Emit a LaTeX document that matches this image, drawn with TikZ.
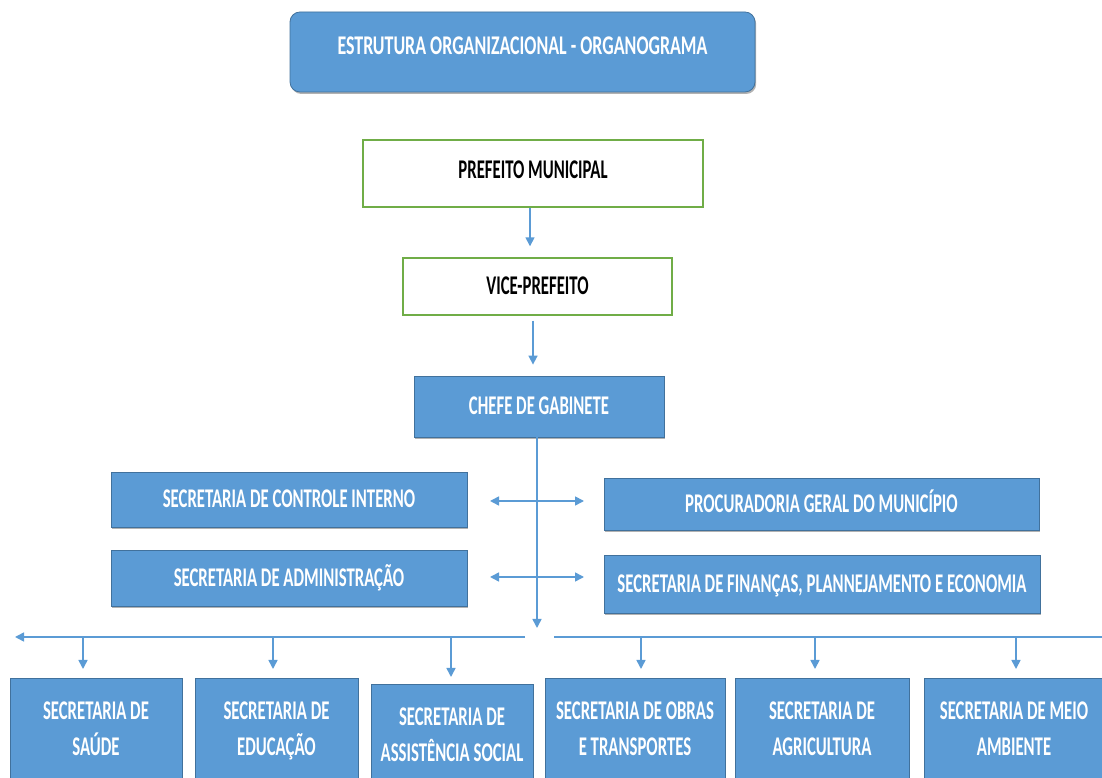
\documentclass[tikz,border=0pt]{standalone}
\usepackage{fontspec}
\setmainfont{Carlito}[FakeStretch=0.62]
\usetikzlibrary{arrows.meta,shadows,calc}
\definecolor{obl}{HTML}{5B9BD5}
\definecolor{obd}{HTML}{41719C}
\definecolor{ogr}{HTML}{70AD47}
\begin{document}
\begin{tikzpicture}[x=1pt,y=1pt,
  txt/.style={font=\fontsize{27}{36}\selectfont\bfseries},
  bluebox/.style={draw=obd, line width=0.8pt, fill=obl, inner sep=0pt,
    text=white, txt, text height=17pt, text depth=0pt,
    drop shadow={shadow xshift=1.2pt, shadow yshift=-2pt, opacity=0.3, fill=black}},
  greenbox/.style={draw=ogr, line width=1.4pt, fill=white, inner sep=0pt,
    text=black, txt, text height=17pt, text depth=0pt},
  btext/.style={txt, text=white, align=center, inner sep=0pt, anchor=north},
  arr/.style={draw=obl, line width=1.6pt, -{Triangle[length=9pt,width=9pt]}},
  darr/.style={draw=obl, line width=1.6pt, {Triangle[length=9pt,width=9pt]}-{Triangle[length=9pt,width=9pt]}},
  ln/.style={draw=obl, line width=1.6pt}
]
\useasboundingbox (0,0) rectangle (1102,778);
\clip (0,0) rectangle (1102,778);

% title
\node[bluebox, rounded corners=10pt, minimum width=465pt, minimum height=80pt,
  text height=17pt, text depth=11pt] (title) at (522.5,726)
  {\scalebox{1.07}[1]{ESTRUTURA ORGANIZACIONAL - ORGANOGRAMA}};

% hierarchy
\node[greenbox, minimum width=340pt, minimum height=67pt, text depth=6pt] (prefeito) at (533,604.5) {PREFEITO MUNICIPAL};
\node[greenbox, minimum width=269pt, minimum height=57pt] (vice) at (537.5,491.5) {VICE-PREFEITO};
\node[bluebox, minimum width=250pt, minimum height=61pt] (chefe) at (539,371.5) {CHEFE DE GABINETE};

% side boxes
\node[bluebox, minimum width=356pt, minimum height=55pt] (controle) at (289,278.5) {SECRETARIA DE CONTROLE INTERNO};
\node[bluebox, minimum width=356pt, minimum height=56pt] (admin) at (289,200) {SECRETARIA DE ADMINISTRAÇÃO};
\node[bluebox, minimum width=435pt, minimum height=52pt] (procur) at (821.5,274) {PROCURADORIA GERAL DO MUNICÍPIO};
\node[bluebox, minimum width=436pt, minimum height=58pt] (financ) at (822,194) {SECRETARIA DE FINANÇAS, PLANNEJAMENTO E ECONOMIA};

% bottom boxes
\node[bluebox, anchor=north, minimum width=172pt, minimum height=125pt] (b1) at (96,100) {};
\node[bluebox, anchor=north, minimum width=163pt, minimum height=125pt] (b2) at (276.5,100) {};
\node[bluebox, anchor=north, minimum width=162pt, minimum height=120pt] (b3) at (452,94) {};
\node[bluebox, anchor=north, minimum width=180pt, minimum height=125pt] (b4) at (635,100) {};
\node[bluebox, anchor=north, minimum width=174pt, minimum height=125pt] (b5) at (822,100) {};
\node[bluebox, anchor=north, minimum width=180pt, minimum height=125pt] (b6) at (1014,100) {};

\node[btext] (t1) at ([yshift=-23.5pt]b1.north) {SECRETARIA DE\\SAÚDE};
\node[btext] (t2) at ([yshift=-23.5pt]b2.north) {SECRETARIA DE\\EDUCAÇÃO};
\node[btext] (t3) at ([yshift=-24pt]b3.north) {SECRETARIA DE\\ASSISTÊNCIA SOCIAL};
\node[btext] (t4) at ([yshift=-23.5pt]b4.north) {SECRETARIA DE OBRAS\\E TRANSPORTES};
\node[btext] (t5) at ([yshift=-23.5pt]b5.north) {SECRETARIA DE\\AGRICULTURA};
\node[btext] (t6) at ([yshift=-23.5pt]b6.north) {SECRETARIA DE MEIO\\AMBIENTE};

% connectors
\draw[arr] ([xshift=-3pt]prefeito.south) -- ([xshift=-7.5pt,yshift=11pt]vice.north);
\draw[arr] ([xshift=-4.5pt,yshift=-5pt]vice.south) -- ([xshift=-6pt,yshift=11pt]chefe.north);

\coordinate (hub) at (537,150);
\coordinate (bl) at (525,141);
\coordinate (ble) at (15,141);
\coordinate (br) at (554,141);
\coordinate (bre) at (1110,141);
\draw[arr] ([xshift=-2pt]chefe.south) -- (hub);
\draw[arr] (bl) -- (ble);
\draw[ln] (br) -- (bre);

\coordinate (d1l) at (490,277);
\coordinate (d1r) at (584,277);
\coordinate (d2l) at (490,201);
\coordinate (d2r) at (584,201);
\draw[darr] (d1l) -- (d1r);
\draw[darr] (d2l) -- (d2r);

\draw[arr] ($(b1.north)+(-13,41)$) -- ($(b1.north)+(-13,9)$);
\draw[arr] ($(b2.north)+(-3.5,41)$) -- ($(b2.north)+(-3.5,9)$);
\draw[arr] ($(b3.north)+(-1,47)$) -- ($(b3.north)+(-1,7)$);
\draw[arr] ($(b4.north)+(6,41)$) -- ($(b4.north)+(6,9)$);
\draw[arr] ($(b5.north)+(-7,41)$) -- ($(b5.north)+(-7,9)$);
\draw[arr] ($(b6.north)+(2,41)$) -- ($(b6.north)+(2,9)$);
\end{tikzpicture}
\end{document}
